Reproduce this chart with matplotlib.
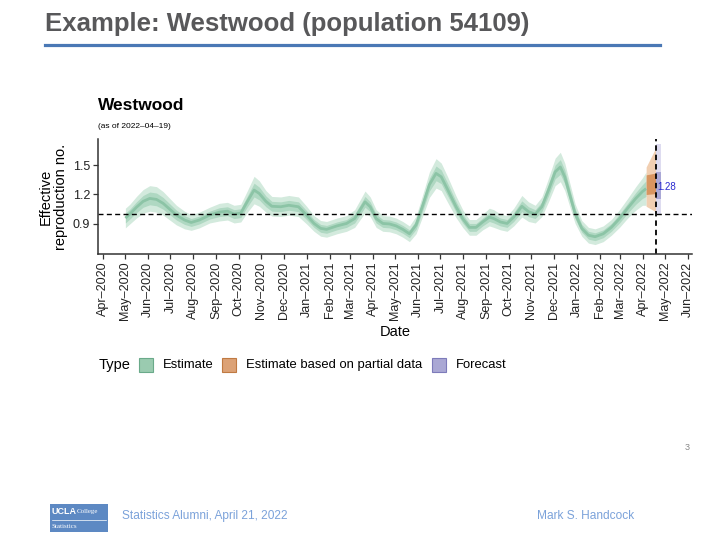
import numpy as np
import pandas as pd
import matplotlib
matplotlib.use("Agg")
import matplotlib.pyplot as plt
from matplotlib.patches import Rectangle

plt.rcParams['font.family'] = ['Liberation Sans', 'DejaVu Sans']

# Estimate: median and half widths of the outer / inner bands
est_dates = ["2020-05-01", "2020-05-07", "2020-05-16", "2020-05-25", "2020-06-03", "2020-06-12",
             "2020-06-21", "2020-06-30", "2020-07-09", "2020-07-20", "2020-07-29", "2020-08-09",
             "2020-08-23", "2020-09-05", "2020-09-16", "2020-09-25", "2020-10-04", "2020-10-13",
             "2020-10-22", "2020-10-29", "2020-11-07", "2020-11-15", "2020-11-27", "2020-12-08",
             "2020-12-21", "2021-01-01", "2021-01-11", "2021-01-20", "2021-01-28", "2021-02-11",
             "2021-02-24", "2021-03-07", "2021-03-14", "2021-03-21", "2021-03-28", "2021-04-05",
             "2021-04-14", "2021-04-23", "2021-05-02", "2021-05-11", "2021-05-20", "2021-05-29",
             "2021-06-07", "2021-06-16", "2021-06-25", "2021-07-02", "2021-07-11", "2021-07-22",
             "2021-07-31", "2021-08-09", "2021-08-18", "2021-08-27", "2021-09-05", "2021-09-11",
             "2021-09-20", "2021-09-29", "2021-10-08", "2021-10-19", "2021-10-28", "2021-11-06",
             "2021-11-15", "2021-11-24", "2021-12-03", "2021-12-10", "2021-12-16", "2021-12-23",
             "2021-12-30", "2022-01-08", "2022-01-17", "2022-01-26", "2022-02-06", "2022-02-17",
             "2022-02-28", "2022-03-11", "2022-03-22", "2022-03-31", "2022-04-05"]
est_med = [0.96, 1.00, 1.07, 1.13, 1.16, 1.15, 1.11, 1.05, 0.99, 0.94, 0.915, 0.94,
           0.99, 1.02, 1.03, 1.00, 1.01, 1.13, 1.245, 1.21, 1.13, 1.08, 1.075, 1.09,
           1.075, 0.99, 0.905, 0.855, 0.845, 0.88, 0.905, 0.955, 1.04, 1.125, 1.075, 0.955,
           0.905, 0.90, 0.88, 0.845, 0.80, 0.89, 1.09, 1.30, 1.415, 1.38, 1.245, 1.075,
           0.955, 0.865, 0.865, 0.92, 0.97, 0.955, 0.92, 0.905, 0.97, 1.08, 1.025, 1.00,
           1.075, 1.245, 1.43, 1.48, 1.38, 1.19, 1.005, 0.855, 0.785, 0.77, 0.80, 0.865,
           0.955, 1.06, 1.16, 1.23, 1.26]
est_w90 = [0.10, 0.10, 0.11, 0.12, 0.13, 0.13, 0.12, 0.11, 0.10, 0.09, 0.08, 0.08,
           0.08, 0.09, 0.09, 0.09, 0.09, 0.11, 0.14, 0.13, 0.11, 0.10, 0.10, 0.10,
           0.10, 0.09, 0.08, 0.08, 0.08, 0.08, 0.08, 0.09, 0.10, 0.11, 0.10, 0.09,
           0.08, 0.08, 0.08, 0.08, 0.08, 0.09, 0.11, 0.13, 0.15, 0.14, 0.13, 0.11,
           0.09, 0.08, 0.08, 0.08, 0.09, 0.09, 0.08, 0.08, 0.09, 0.11, 0.10, 0.09,
           0.10, 0.12, 0.14, 0.15, 0.14, 0.12, 0.10, 0.08, 0.08, 0.08, 0.08, 0.08,
           0.09, 0.10, 0.12, 0.14, 0.17]
est_w50 = [0.05, 0.05, 0.055, 0.06, 0.065, 0.065, 0.06, 0.055, 0.05, 0.045, 0.04, 0.04,
           0.04, 0.045, 0.045, 0.045, 0.045, 0.055, 0.07, 0.065, 0.055, 0.05, 0.05, 0.05,
           0.05, 0.045, 0.04, 0.04, 0.04, 0.04, 0.04, 0.045, 0.05, 0.055, 0.05, 0.045,
           0.04, 0.04, 0.04, 0.04, 0.04, 0.045, 0.055, 0.065, 0.075, 0.07, 0.065, 0.055,
           0.045, 0.04, 0.04, 0.04, 0.045, 0.045, 0.04, 0.04, 0.045, 0.055, 0.05, 0.045,
           0.05, 0.06, 0.07, 0.075, 0.07, 0.06, 0.05, 0.04, 0.04, 0.04, 0.04, 0.04,
           0.045, 0.05, 0.06, 0.07, 0.08]

# Estimate based on partial data
part_dates = ["2022-04-05", "2022-04-19"]
part_lo90 = [1.08, 1.02]
part_hi90 = [1.48, 1.69]
part_lo50 = [1.20, 1.21]
part_hi50 = [1.40, 1.42]

# Forecast
fc_dates = ["2022-04-19", "2022-04-25"]
fc_lo90 = [1.00, 1.00]
fc_hi90 = [1.71, 1.71]
fc_lo50 = [1.15, 1.15]
fc_hi50 = [1.43, 1.43]
fc_value = 1.28

asof = "2022-04-19"
y_ticks = [0.9, 1.2, 1.5]

W, H = 720, 540


def fx(x):
    return x / W


def fy(y):
    return 1 - y / H


fig = plt.figure(figsize=(7.2, 5.4), dpi=100)
ax = fig.add_axes([fx(98), fy(254), (692 - 98) / W, (254 - 139) / H])

ed = pd.to_datetime(est_dates)
med = np.array(est_med)
w90 = np.array(est_w90)
w50 = np.array(est_w50)
ax.fill_between(ed, med - w90, med + w90, color="#d3eadd", lw=0)
ax.fill_between(ed, med - w50, med + w50, color="#afd8c2", lw=0)
ax.plot(ed, med, color="#8cc4a6", lw=2.0, solid_capstyle="butt")

pd_ = pd.to_datetime(part_dates)
ax.fill_between(pd_, part_lo90, part_hi90, color="#f1cfb2", lw=0)
ax.fill_between(pd_, part_lo50, part_hi50, color="#d89560", lw=0)

fd = pd.to_datetime(fc_dates)
ax.fill_between(fd, fc_lo90, fc_hi90, color="#dedcf0", lw=0)
ax.fill_between(fd, fc_lo50, fc_hi50, color="#aaa8d6", lw=0)

ax.axhline(1.0, color="black", lw=1.0, ls=(0, (3.6, 2.4)))
ax.axvline(pd.Timestamp(asof), color="black", lw=1.3, ls=(0, (3, 2.2)))
ax.text(pd.Timestamp(asof) + pd.Timedelta(days=1), fc_value, f"{fc_value:.2f}",
        color="#2a2ad0", fontsize=7, va="center", ha="left")

ax.set_xlim(pd.Timestamp("2020-03-25"), pd.Timestamp("2022-06-06"))
ax.set_ylim(0.594, 1.765)
months = pd.date_range("2020-04-01", "2022-06-01", freq="MS")
ax.set_xticks(months)
ax.set_xticklabels([m.strftime("%b–%Y") for m in months])
ax.set_yticks(y_ticks)
ax.set_yticklabels([f"{v:.1f}" for v in y_ticks])
ax.tick_params(axis="x", labelrotation=90, labelsize=9, length=3.5, width=0.9,
               color="#333333", labelcolor="#222222", pad=2)
ax.tick_params(axis="y", labelsize=9, length=3.5, width=0.9,
               color="#333333", labelcolor="#222222", pad=2)
for s in ["top", "right"]:
    ax.spines[s].set_visible(False)
for s in ["left", "bottom"]:
    ax.spines[s].set_color("#333333")
    ax.spines[s].set_linewidth(1.1)

fig.text(fx(53), fy(197), "Effective\nreproduction no.", rotation=90, ha="center",
         va="center", fontsize=10.5, multialignment="center", linespacing=1.1)
fig.text(fx(395), fy(332), "Date", ha="center", va="center", fontsize=10.5)
fig.text(fx(98), fy(105), "Westwood", ha="left", va="center", fontsize=12.5,
         fontweight="bold")
fig.text(fx(98), fy(127), f"(as of {asof.replace('-', '–')})", ha="left",
         va="center", fontsize=6)

# legend
fig.text(fx(99), fy(365), "Type", ha="left", va="center", fontsize=10.5)
legend_items = [("Estimate", 139, "#9acbb0", "#6aaa8a"),
                ("Estimate based on partial data", 222, "#dca276", "#c07a42"),
                ("Forecast", 432, "#aaa8d4", "#7d7bba")]
for label, x0, fc, ec in legend_items:
    fig.add_artist(Rectangle((fx(x0), fy(372)), 14 / W, 14 / H, transform=fig.transFigure,
                             facecolor=fc, edgecolor=ec, lw=0.8))
    fig.text(fx(x0 + 24), fy(365), label, ha="left", va="center", fontsize=9.4)

# slide header
fig.text(fx(45), fy(31), "Example: Westwood (population 54109)", ha="left",
         va="baseline", fontsize=18.5, fontweight="bold", color="#58585a")
fig.add_artist(plt.Line2D([fx(45), fx(660)], [fy(45), fy(45)], transform=fig.transFigure,
                          color="#4a78b5", lw=2.3))
fig.text(fx(690), fy(447), "3", ha="right", va="center", fontsize=6.5, color="#888888")

# slide footer
fig.add_artist(Rectangle((fx(50), fy(532)), 58 / W, 28 / H, transform=fig.transFigure,
                         facecolor="#5d89c3", edgecolor="none"))
fig.text(fx(52), fy(512), "UCLA", ha="left", va="center", fontsize=6.5,
         fontweight="bold", color="white")
fig.text(fx(77), fy(512), "College", ha="left", va="center", fontsize=5,
         color="white", family="Liberation Serif")
fig.add_artist(plt.Line2D([fx(52), fx(106)], [fy(520), fy(520)], transform=fig.transFigure,
                          color="white", lw=0.5))
fig.text(fx(52), fy(527), "Statistics", ha="left", va="center", fontsize=5,
         color="white", family="Liberation Serif")
fig.text(fx(122), fy(516), "Statistics Alumni, April 21, 2022", ha="left", va="center",
         fontsize=8.6, color="#7ba2da")
fig.text(fx(537), fy(516), "Mark S. Handcock", ha="left", va="center",
         fontsize=8.6, color="#7ba2da")

fig.savefig("out.png", dpi=100)
